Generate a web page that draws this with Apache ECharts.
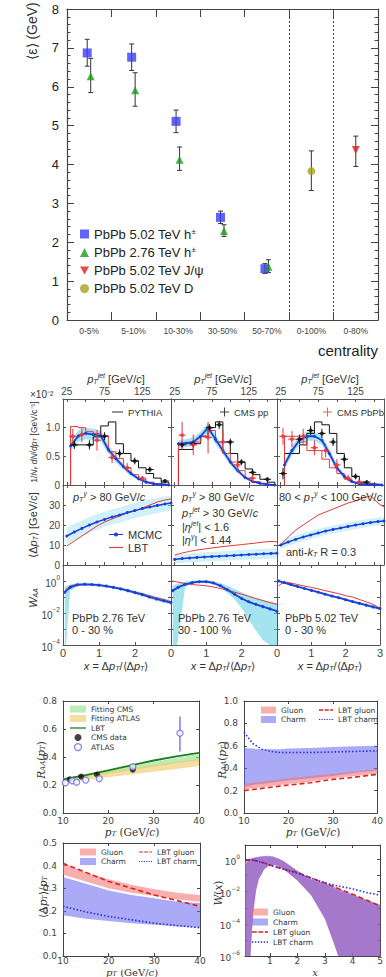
<!DOCTYPE html>
<html><head><meta charset="utf-8">
<script src="https://cdn.jsdelivr.net/npm/echarts@6/dist/echarts.min.js"></script>
<style>html,body{margin:0;padding:0;background:#fff}#c{width:386px;height:977px}</style>
</head><body><div id="c"></div>
<script>
// ================= DATA =================
// --- top chart: mean energy loss vs centrality ---
const centralityCats = ['0-5%','5-10%','10-30%','30-50%','50-70%','0-100%','0-80%'];
const h502Vals = [6.87, 6.76, 5.11, 2.64, 1.32];
const h502Err  = [[6.53,7.22],[6.42,7.10],[4.82,5.40],[2.48,2.80],[1.20,1.45]];
const h276Vals = [6.27, 5.91, 4.12, 2.29, 1.37];
const h276Err  = [[5.85,6.73],[5.50,6.36],[3.85,4.45],[2.15,2.45],[1.22,1.55]];
const jpsiCat = '0-80%', jpsiVal = 4.37, jpsiErr = [3.95,4.73];
const dCat = '0-100%', dVal = 3.83, dErr = [3.33,4.35];

// --- middle row 1: dN/dpT (x10^-2) ---
const histEdges = [30,40,50,60,70,80,90,100,110,120,130,140,150,160];
const pythia1 = [0.70,0.70,0.70,0.84,1.03,1.10,0.72,0.55,0.42,0.30,0.20,0.12,0.05];
const lbtHist1 = [1.02,1.00,0.93,0.90,0.86,0.58,0.46,0.30,0.18,0.10,0.05,0.02,0.01];
const pythia2 = [0.62,0.62,0.72,0.85,1.00,1.10,0.75,0.55,0.40,0.28,0.18,0.10,0.05];
const lbtHist2 = [0.72,0.72,0.75,0.85,0.95,0.75,0.55,0.40,0.25,0.12,0.06,0.03,0.01];
const pythia3 = [0.55,0.55,0.70,0.90,1.10,1.05,0.90,0.55,0.30,0.15,0.05,0.02,0.01];
const lbtHist3 = [0.85,0.85,0.75,0.60,0.60,0.45,0.30,0.20,0.10,0.05,0.02,0.01,0.00];
const mcmcPtX = [30,40,50,60,70,80,90,100,110,120,130,140,150,160];
const mcmcSpec1 = [0.68,0.85,0.90,0.88,0.86,0.62,0.46,0.32,0.20,0.11,0.05,0.02,0.01,0.00];
const mcmcSpec1Lo = [0.60,0.76,0.80,0.78,0.76,0.55,0.40,0.27,0.16,0.08,0.03,0.01,0.00,0.00];
const mcmcSpec1Hi = [0.76,0.95,1.00,0.98,0.95,0.70,0.52,0.37,0.24,0.14,0.07,0.03,0.02,0.01];
const mcmcSpec2 = [0.72,0.73,0.75,0.85,1.00,0.80,0.60,0.40,0.25,0.13,0.06,0.03,0.01,0.00];
const mcmcSpec2Lo = [0.65,0.66,0.68,0.77,0.90,0.72,0.53,0.35,0.21,0.10,0.04,0.02,0.00,0.00];
const mcmcSpec2Hi = [0.79,0.80,0.83,0.93,1.08,0.88,0.67,0.46,0.30,0.16,0.08,0.04,0.02,0.01];
const mcmcSpec3 = [0.35,0.60,0.78,0.85,0.85,0.78,0.55,0.30,0.15,0.06,0.02,0.01,0.00,0.00];
const mcmcSpec3Lo = [0.28,0.52,0.70,0.77,0.77,0.70,0.48,0.25,0.11,0.04,0.01,0.00,0.00,0.00];
const mcmcSpec3Hi = [0.42,0.68,0.86,0.93,0.93,0.86,0.62,0.36,0.19,0.08,0.03,0.02,0.01,0.00];
// points: [pT, value, lo, hi]
const blackPts1 = [[35,0.70,0.63,0.77],[55,0.70,0.62,0.78],[75,0.85,0.78,0.92],[95,0.55,0.48,0.62],[115,0.42,0.36,0.48],[135,0.27,0.22,0.32],[155,0.07,0.04,0.10]];
const redPts1 = [[33,0.85,0.72,0.98],[45,0.88,0.75,1.00],[65,0.78,0.60,0.96],[85,0.48,0.38,0.58],[105,0.30,0.22,0.38],[125,0.12,0.08,0.16]];
const blackPts2 = [[35,0.70,0.64,0.76],[50,0.72,0.66,0.78],[72,1.00,0.94,1.06],[85,1.05,0.98,1.12],[100,0.75,0.69,0.81],[115,0.40,0.35,0.45],[130,0.22,0.18,0.26],[150,0.10,0.07,0.13]];
const redPts2 = [[35,0.87,0.62,1.10],[50,0.70,0.52,0.88],[70,0.83,0.55,1.10],[90,0.75,0.55,0.95],[110,0.35,0.22,0.48],[130,0.12,0.05,0.20]];
const blackPts3 = [[28,0.20,0.10,0.30],[50,0.80,0.72,0.88],[65,0.95,0.87,1.03],[80,0.90,0.82,0.98],[95,0.75,0.68,0.82],[110,0.45,0.38,0.52],[125,0.15,0.10,0.20],[140,0.05,0.02,0.08]];
const redPts3 = [[28,0.85,0.70,1.00],[40,0.80,0.66,0.94],[55,0.85,0.72,0.98],[70,0.65,0.52,0.78],[85,0.60,0.48,0.72],[100,0.35,0.25,0.45],[115,0.12,0.06,0.18],[130,0.05,0.02,0.08]];

// --- middle row 2: <DeltaPT> vs pT ---
const dptX = [25,35,45,55,65,75,85,95,105,115,125,135,145,155,163];
const dptMcmc1 = [14.5,16.5,18.3,20.0,21.5,22.8,24.0,25.0,26.2,27.2,28.2,29.0,29.8,30.5,31.0];
const dptMcmc1Lo = [10.5,12.5,14.5,16.0,17.5,19.0,20.2,21.2,22.4,23.4,24.4,25.2,26.0,26.7,27.2];
const dptMcmc1Hi = [18.5,20.5,22.2,24.0,25.5,26.6,27.8,28.8,30.0,31.0,32.0,32.8,33.6,34.3,34.8];
const dptLbt1 = [9.5,12.0,14.5,17.0,19.5,21.5,23.0,24.5,26.0,27.0,28.5,30.0,31.5,32.5,33.0];
const dptMcmc2 = [2.8,3.2,3.5,3.8,4.0,4.2,4.4,4.6,4.8,5.0,5.2,5.4,5.6,5.8,5.9];
const dptMcmc2Lo = [0.8,1.0,1.3,1.5,1.7,1.9,2.0,2.2,2.4,2.5,2.7,2.8,3.0,3.2,3.3];
const dptMcmc2Hi = [4.8,5.3,5.7,6.1,6.4,6.6,6.8,7.0,7.2,7.5,7.7,7.9,8.1,8.3,8.4];
const dptLbt2 = [5.0,6.0,6.8,7.5,8.0,8.5,9.0,9.4,9.8,10.2,10.6,11.0,11.5,11.8,11.6];
const dptMcmc3 = [10.0,11.5,12.8,14.0,15.0,16.0,17.0,17.8,18.5,19.3,20.0,20.6,21.2,21.7,22.0];
const dptMcmc3Lo = [8.0,9.5,10.8,12.0,13.0,14.0,15.0,15.8,16.5,17.3,18.0,18.6,19.2,19.7,20.0];
const dptMcmc3Hi = [12.0,13.5,14.8,16.0,17.0,18.0,19.0,19.8,20.5,21.3,22.0,22.6,23.2,23.7,24.0];
const dptLbt3 = [10.0,14.0,17.5,20.0,22.5,25.0,26.5,28.0,29.5,31.0,32.0,33.5,34.5,31.0,29.0];

// --- middle row 3: W_AA(x) ---
const wX = [0.05,0.2,0.4,0.6,0.8,1.0,1.2,1.4,1.6,1.8,2.0,2.2,2.4,2.6,2.8,3.0];
const wMcmc1 = [0.20,0.40,0.58,0.62,0.60,0.55,0.48,0.40,0.32,0.25,0.19,0.14,0.10,0.075,0.058,0.045];
const wMcmc1Lo = [0.00001,0.25,0.45,0.52,0.50,0.46,0.40,0.33,0.26,0.20,0.15,0.11,0.078,0.057,0.043,0.032];
const wMcmc1Hi = [0.45,0.60,0.75,0.78,0.74,0.67,0.58,0.49,0.40,0.32,0.25,0.19,0.14,0.105,0.08,0.064];
const wLbt1 = [0.25,0.50,0.62,0.62,0.60,0.55,0.47,0.40,0.33,0.26,0.20,0.16,0.12,0.09,0.07,0.05];
const wMcmc2 = [0.25,0.40,0.62,0.80,0.90,0.90,0.75,0.50,0.28,0.15,0.08,0.05,0.035,0.025,0.018,0.013];
const wMcmc2Lo = [0.00001,0.0002,0.4,0.65,0.78,0.78,0.62,0.38,0.18,0.07,0.02,0.004,0.0008,0.0002,0.0001,0.0001];
const wMcmc2Hi = [0.5,0.7,0.9,1.05,1.15,1.15,1.0,0.75,0.5,0.32,0.2,0.13,0.09,0.065,0.05,0.04];
const wLbt2 = [1.00,0.85,0.70,0.60,0.55,0.50,0.42,0.34,0.26,0.20,0.15,0.11,0.08,0.06,0.045,0.035];
const wMcmc3 = [1.00,0.80,0.60,0.45,0.34,0.26,0.20,0.15,0.115,0.09,0.068,0.052,0.04,0.031,0.024,0.019];
const wMcmc3Lo = [0.85,0.68,0.51,0.38,0.29,0.22,0.17,0.13,0.098,0.075,0.057,0.043,0.033,0.025,0.019,0.015];
const wMcmc3Hi = [1.15,0.92,0.70,0.53,0.40,0.31,0.24,0.18,0.135,0.105,0.08,0.062,0.048,0.038,0.03,0.024];
const wLbt3 = [0.50,0.90,0.75,0.60,0.48,0.40,0.32,0.25,0.20,0.16,0.12,0.10,0.07,0.05,0.035,0.02];

// --- bottom left 1: R_AA ---
const raaX = [10,15,20,25,30,35,40];
const fitCmsLo = [0.235,0.255,0.28,0.305,0.33,0.355,0.375];
const fitCmsHi = [0.25,0.275,0.305,0.335,0.365,0.395,0.42];
const fitAtlasLo = [0.215,0.235,0.255,0.275,0.295,0.315,0.335];
const fitAtlasHi = [0.25,0.27,0.295,0.32,0.345,0.365,0.385];
const raaLbt = [0.24,0.27,0.305,0.34,0.375,0.405,0.43];
const cmsData = [[11.5,0.24,0.23,0.25],[14,0.26,0.25,0.27],[17.5,0.275,0.265,0.285],[25.4,0.31,0.295,0.325]];
const atlasData = [[10.5,0.215,0.205,0.225],[12,0.23,0.22,0.24],[13,0.22,0.21,0.23],[15,0.235,0.225,0.245],[18,0.245,0.235,0.255],[25.4,0.33,0.315,0.345],[35.8,0.57,0.44,0.69]];

// --- bottom right 1: R_AA gluon / charm ---
const raa2X = [10,12,14,16,18,20,25,30,35,40];
const gluonRaaLo = [0.21,0.22,0.23,0.24,0.25,0.26,0.28,0.31,0.33,0.35];
const gluonRaaHi = [0.26,0.27,0.28,0.29,0.30,0.31,0.33,0.35,0.37,0.39];
const charmRaaLo = [0.23,0.25,0.26,0.27,0.28,0.29,0.31,0.33,0.36,0.38];
const charmRaaHi = [0.58,0.575,0.57,0.57,0.57,0.575,0.58,0.59,0.595,0.60];
const lbtGluonRaa = [0.20,0.21,0.22,0.23,0.24,0.25,0.27,0.30,0.32,0.345];
const lbtCharmRaa = [0.72,0.62,0.57,0.55,0.54,0.54,0.54,0.545,0.55,0.555];

// --- bottom left 2: <DeltaPT>/pT ---
const lossX = [10,15,20,25,30,35,40];
const gluonLossLo = [0.36,0.33,0.30,0.28,0.265,0.25,0.24];
const gluonLossHi = [0.41,0.37,0.34,0.315,0.295,0.28,0.27];
const charmLossLo = [0.18,0.165,0.155,0.145,0.138,0.13,0.125];
const charmLossHi = [0.35,0.32,0.29,0.27,0.255,0.24,0.235];
const lbtGluonLoss = [0.41,0.37,0.33,0.30,0.27,0.245,0.22];
const lbtCharmLoss = [0.22,0.195,0.175,0.16,0.145,0.135,0.125];

// --- bottom right 2: W(x) ---
const wxUpX = [0.1,0.2,0.3,0.5,0.7,0.9,1.1,1.3,1.5,2.0,2.5,3.0,3.5,4.0,4.5,5.0];
const charmWHi = [0.4,0.8,1.1,1.4,1.6,1.7,1.6,1.2,0.8,0.2,0.06,0.035,0.015,0.007,0.003,0.0015];
const gluonWHi = [0.7,1.0,1.2,1.4,1.5,1.5,1.4,1.1,0.75,0.2,0.06,0.03,0.012,0.006,0.003,0.0015];
const wxLoX = [0.1,0.25,0.3,0.35,0.4,0.5,0.6,0.8,1.0,1.2,1.5,2.0,2.5,3.0,3.3,3.5,4.0,5.0];
const bandWLo = [1e-8,1e-7,1e-6,3e-5,5e-4,0.012,0.06,0.25,0.45,0.45,0.25,0.05,0.006,2e-4,8e-6,8e-7,1e-8,1e-8];
const lbtWX = [0.1,0.3,0.5,0.8,1.0,1.5,2.0,2.5,3.0,3.5,4.0,4.5,5.0];
const lbtGluonW = [0.9,0.95,0.85,0.6,0.45,0.25,0.16,0.07,0.035,0.015,0.007,0.003,0.0013];
const lbtCharmW = [0.9,0.95,0.85,0.6,0.45,0.25,0.14,0.07,0.035,0.022,0.015,0.009,0.006];

// ================= BUILD =================
const FONT = '"Liberation Sans", Arial, sans-serif';
const MID = '"Liberation Sans", Arial, sans-serif';
const BOT = '"DejaVu Sans", sans-serif';
const SERIF = '"DejaVu Serif", serif';
const grids=[], xAxis=[], yAxis=[], series=[], graphic=[], legend=[];

function mkAxis(gi, a, pos, labelOn){
  const col = a.lineColor || '#333';
  const o = {
    gridIndex: gi, position: pos, type: a.type || 'value',
    splitLine: {show:false},
    axisLine: {show:true, onZero:false, lineStyle:{color:col, width:a.lineWidth||1}},
    axisTick: {show: a.tick!==false, inside:true, length:a.tickLen||4, interval:0, lineStyle:{color:col, width:1}},
    minorTick: {show: !!a.minor, splitNumber: a.minor||5, length: a.minorLen||2, lineStyle:{color:col, width:1}},
    axisLabel: Object.assign({show: labelOn, color:'#333', fontSize:9, fontFamily:FONT, margin:4, interval:0}, a.label||{})
  };
  ['min','max','interval','data','logBase','boundaryGap'].forEach(k=>{ if(a[k]!==undefined) o[k]=a[k]; });
  if (a.splitLine && pos===a.splitPos) o.splitLine = a.splitLine;
  if (a.tickValues) o.axisTick.customValues = a.tickValues;
  if (a.labelValues) o.axisLabel.customValues = a.labelValues;
  return o;
}
function panel(rect, xa, ya){
  const gi = grids.length;
  grids.push({left:rect[0], top:rect[1], width:rect[2], height:rect[3], show:false});
  const xi = xAxis.length, yi = yAxis.length;
  xAxis.push(mkAxis(gi, xa, 'bottom', xa.bottomLabels!==false));
  xAxis.push(mkAxis(gi, xa, 'top', !!xa.topLabels));
  yAxis.push(mkAxis(gi, ya, 'left', ya.leftLabels!==false));
  yAxis.push(mkAxis(gi, ya, 'right', false));
  return {gi, xi, yi};
}
function lineS(p, xs, ys, st){
  return {type:'line', name:st.name, xAxisIndex:p.xi, yAxisIndex:p.yi,
    data: xs.map((x,i)=>[x,ys[i]]), symbol: st.symbol||'none', symbolSize: st.symbolSize||4,
    showSymbol: !!st.symbol, lineStyle:{color:st.color, width:st.width||1, type:st.type||'solid'},
    itemStyle:{color:st.color}, z: st.z||3, silent:true, animation:false, clip:true};
}
function histS(p, edges, vals, st){
  const xs=[], ys=[];
  xs.push(edges[0]); ys.push(0);
  vals.forEach((v,i)=>{ xs.push(edges[i]); ys.push(v); xs.push(edges[i+1]); ys.push(v); });
  xs.push(edges[edges.length-1]); ys.push(0);
  return lineS(p, xs, ys, st);
}
function bandS(p, xsU, up, xsL, lo, color, z, name){
  return {type:'custom', name:name, xAxisIndex:p.xi, yAxisIndex:p.yi, data:[[xsU[0], up[0]]],
    z:z||1, silent:true, clip:true, animation:false, itemStyle:{color:color},
    renderItem:(params, api)=>{
      const pts=[];
      for(let i=0;i<xsU.length;i++) pts.push(api.coord([xsU[i], up[i]]));
      for(let i=xsL.length-1;i>=0;i--) pts.push(api.coord([xsL[i], lo[i]]));
      return {type:'polygon', shape:{points:pts}, style:{fill:color}};
    }};
}
function errS(p, pts, color, opt){ // pts: [x, lo, hi, (y)]
  opt = opt||{};
  return {type:'custom', xAxisIndex:p.xi, yAxisIndex:p.yi, data:pts, z:opt.z||4, silent:true,
    clip:!!opt.clip, animation:false,
    renderItem:(params, api)=>{
      const x=api.value(0), lo=api.value(1), hi=api.value(2);
      const a=api.coord([x,lo]), b=api.coord([x,hi]); const dx=opt.dx||0, c=opt.cap||0, lw=opt.lw||1;
      const st={stroke:color, lineWidth:lw};
      const ch=[{type:'line', shape:{x1:a[0]+dx,y1:a[1],x2:b[0]+dx,y2:b[1]}, style:st}];
      if(c){
        ch.push({type:'line', shape:{x1:a[0]+dx-c,y1:a[1],x2:a[0]+dx+c,y2:a[1]}, style:st});
        ch.push({type:'line', shape:{x1:b[0]+dx-c,y1:b[1],x2:b[0]+dx+c,y2:b[1]}, style:st});
      }
      if(opt.hw){
        const y=api.value(3);
        const l=api.coord([x-opt.hw,y]), r=api.coord([x+opt.hw,y]);
        ch.push({type:'line', shape:{x1:l[0],y1:l[1],x2:r[0],y2:r[1]}, style:st});
      }
      return {type:'group', children:ch};
    }};
}
function scatS(p, pts, st){
  return {type:'scatter', name:st.name, xAxisIndex:p.xi, yAxisIndex:p.yi, data:pts,
    symbol:st.symbol||'circle', symbolSize:st.size||5, symbolOffset:st.offset||[0,0],
    itemStyle:{color:st.color, borderColor:st.border||st.color, borderWidth:st.bw||0},
    z:st.z||5, silent:true, animation:false};
}
function txt(x,y,text,o){
  o=o||{};
  return {type:'text', x:x, y:y, rotation:o.rot||0, z:100, silent:true,
    style:{text:text, fill:o.color||'#222', fontSize:o.size||10, fontFamily:o.font||MID,
      fontStyle:o.italic?'italic':'normal', align:o.align||'left', verticalAlign:o.va||'middle', rich:o.rich}};
}
const supRich = (sz, fam)=>{
  const f = fam||MID, lh = sz+2;
  return {
  n:{fontSize:sz, fontFamily:f, lineHeight:lh, verticalAlign:'bottom'},
  i:{fontSize:sz, fontFamily:f, lineHeight:lh, verticalAlign:'bottom', fontStyle:'italic'},
  s:{fontSize:Math.round(sz*0.68), fontFamily:f, lineHeight:lh, verticalAlign:'top'},
  si:{fontSize:Math.round(sz*0.68), fontFamily:f, lineHeight:lh, verticalAlign:'top', fontStyle:'italic'},
  d:{fontSize:Math.round(sz*0.68), fontFamily:f, lineHeight:lh, verticalAlign:'bottom', fontStyle:'italic'}
  };
};
// legend icon paths (bbox aspect kept)
const ICON_LINE = 'path://M0,0H20V1.6H0Z';
const ICON_DASH = 'path://M0,0H6V1.8H0Z M8,0H14V1.8H8Z M16,0H20V1.8H16Z';
const ICON_DOT = 'path://M0,0H1.6V1.6H0Z M3.4,0H5V1.6H3.4Z M6.8,0H8.4V1.6H6.8Z M10.2,0H11.8V1.6H10.2Z M13.6,0H15.2V1.6H13.6Z M17,0H18.6V1.6H17Z';
const ICON_LINEDOT = 'path://M0,2.3H20V3.7H0Z M10,0A3,3 0 1,1 9.99,0Z';
const ICON_CROSS = 'path://M4.4,0H5.6V4.4H10V5.6H5.6V10H4.4V5.6H0V4.4H4.4Z';

// ---------- TOP CHART ----------
const pTop = panel([67,9,311,311],
  {type:'category', data:centralityCats, boundaryGap:true, tickLen:8, lineColor:'#444', lineWidth:1.2,
   label:{fontSize:8.5, color:'#444', margin:6, fontFamily:FONT},
   splitPos:'bottom', splitLine:{show:true, interval:(i)=>i===5||i===6, lineStyle:{color:'#444', type:[2,2], width:1}}},
  {min:0, max:8, interval:1, tickLen:7, minor:5, minorLen:3.5, lineColor:'#444', lineWidth:1.2,
   label:{fontSize:13, color:'#222', margin:8, fontFamily:FONT}});
series.push(errS(pTop, h502Err.map((e,i)=>[i,e[0],e[1]]), '#333', {dx:-2, cap:2.5}));
series.push(errS(pTop, h276Err.map((e,i)=>[i,e[0],e[1]]), '#333', {dx:1.5, cap:2.5}));
series.push(errS(pTop, [[centralityCats.indexOf(dCat), dErr[0], dErr[1]]], '#333', {cap:2.5}));
series.push(errS(pTop, [[centralityCats.indexOf(jpsiCat), jpsiErr[0], jpsiErr[1]]], '#333', {cap:2.5}));
series.push(scatS(pTop, h502Vals.map((v,i)=>[i,v]), {name:'PbPb 5.02 TeV h±', symbol:'rect', size:9, offset:[-2,0], color:'#3c3cf5'}));
series.push(scatS(pTop, h276Vals.map((v,i)=>[i,v]), {name:'PbPb 2.76 TeV h±', symbol:'triangle', size:8, offset:[1.5,0], color:'#1d9a1d'}));
series.push(scatS(pTop, [[centralityCats.indexOf(jpsiCat), jpsiVal]], {name:'PbPb 5.02 TeV J/ψ', symbol:'path://M0,0L10,0L5,9Z', size:[8,8], color:'#e41a1a'}));
series.push(scatS(pTop, [[centralityCats.indexOf(dCat), dVal]], {name:'PbPb 5.02 TeV D', symbol:'circle', size:8, color:'#a9a21a'}));
legend.push({orient:'vertical', left:80, top:227, padding:0, itemGap:5, itemWidth:9, itemHeight:9, selectedMode:false,
  textStyle:{fontSize:13, fontFamily:FONT, color:'#222', rich:{n:{fontSize:13,fontFamily:FONT,color:'#222'}, s:{fontSize:8, fontFamily:FONT, color:'#222', verticalAlign:'top', padding:[0,0,6,0]}}},
  formatter:(n)=> n.endsWith('h±') ? '{n|'+n.slice(0,-1)+'}{s|±}' : n,
  data:['PbPb 5.02 TeV h±','PbPb 2.76 TeV h±','PbPb 5.02 TeV J/ψ','PbPb 5.02 TeV D']});
graphic.push(txt(32,31,'⟨ε⟩ (GeV)',{rot:Math.PI/2, size:14, font:FONT, align:'center', color:'#333'}));
graphic.push(txt(378,350,'centrality',{size:15, font:FONT, align:'right', color:'#222'}));

// ---------- MIDDLE 3x3 ----------
const colL=[63,171,277], colW=[108,106,107];
const rowT=[399,485,565], rowH=[86,80,80];
const midLabel = {fontSize:10, fontFamily:MID, color:'#444', margin:3};
const logFmt = (v)=>{ const e=Math.round(Math.log10(v)); if(e>0 || e%2!==0) return ''; return '{b|10}{s|'+(e<0?'−'+(-e):e)+'}'; };
const logRich = {b:{fontSize:10, fontFamily:MID, color:'#444', lineHeight:14, verticalAlign:'bottom'}, s:{fontSize:6.5, fontFamily:MID, color:'#444', lineHeight:14, verticalAlign:'top'}};
const P1=[],P2=[],P3=[];
for(let c=0;c<3;c++){
  P1[c]=panel([colL[c],rowT[0],colW[c],rowH[0]],
    {min:20, max:163, tickValues:[25,50,75,100,125,150], labelValues:[25,75,125], bottomLabels:false, topLabels:true, tickLen:3, lineColor:'#555', label:midLabel},
    {min:0, max:1.5, interval:0.5, tickLen:3, lineColor:'#555', leftLabels:c===0, label:Object.assign({}, midLabel, {formatter:(v)=> v===0?'0':(v>1.2?'':v.toFixed(1))})});
  P2[c]=panel([colL[c],rowT[1],colW[c],rowH[1]],
    {min:20, max:163, tickValues:[25,50,75,100,125,150], bottomLabels:false, tickLen:3, lineColor:'#555', label:midLabel},
    {min:0, max:40, interval:10, tickLen:3, lineColor:'#555', leftLabels:c===0, label:Object.assign({}, midLabel, {formatter:(v)=> v>35?'':String(v)})});
  P3[c]=panel([colL[c],rowT[2],colW[c],rowH[2]],
    {min:0, max:3, interval:1, tickLen:3, lineColor:'#555', label:Object.assign({}, midLabel, {fontSize:11, margin:2, formatter:(v)=> (c<2 && v===3)?'':String(v)})},
    {type:'log', logBase:10, min:1e-4, max:10, interval:1, tickLen:3, lineColor:'#555', leftLabels:c===0, label:Object.assign({}, midLabel, {formatter:logFmt, rich:logRich})});
}
const CYAN='rgba(90,205,225,0.55)', CYAN2='rgba(150,225,238,0.45)', MBLUE='#1c3fd8', LRED='#e8373a';
const pyth=[pythia1,pythia2,pythia3], lbtH=[lbtHist1,lbtHist2,lbtHist3];
const spec=[mcmcSpec1,mcmcSpec2,mcmcSpec3], specLo=[mcmcSpec1Lo,mcmcSpec2Lo,mcmcSpec3Lo], specHi=[mcmcSpec1Hi,mcmcSpec2Hi,mcmcSpec3Hi];
const bPts=[blackPts1,blackPts2,blackPts3], rPts=[redPts1,redPts2,redPts3];
const dM=[dptMcmc1,dptMcmc2,dptMcmc3], dMLo=[dptMcmc1Lo,dptMcmc2Lo,dptMcmc3Lo], dMHi=[dptMcmc1Hi,dptMcmc2Hi,dptMcmc3Hi], dL=[dptLbt1,dptLbt2,dptLbt3];
const wM=[wMcmc1,wMcmc2,wMcmc3], wMLo=[wMcmc1Lo,wMcmc2Lo,wMcmc3Lo], wMHi=[wMcmc1Hi,wMcmc2Hi,wMcmc3Hi], wL=[wLbt1,wLbt2,wLbt3];
for(let c=0;c<3;c++){
  series.push(bandS(P1[c], mcmcPtX, specHi[c], mcmcPtX, specLo[c], CYAN, 1));
  series.push(histS(P1[c], histEdges, pyth[c], {color:'#111', width:1, z:2, name: c===0?'PYTHIA':undefined}));
  series.push(histS(P1[c], histEdges, lbtH[c], {color:LRED, width:1, z:2}));
  series.push(lineS(P1[c], mcmcPtX, spec[c], {color:MBLUE, width:1.8, symbol:'circle', symbolSize:3, z:3}));
  series.push(errS(P1[c], bPts[c].map(p=>[p[0],p[2],p[3],p[1]]), '#111', {hw:5, z:4}));
  series.push(scatS(P1[c], bPts[c].map(p=>[p[0],p[1]]), {color:'#111', size:4, name: c===1?'CMS pp':undefined}));
  series.push(errS(P1[c], rPts[c].map(p=>[p[0],p[2],p[3],p[1]]), LRED, {hw:5, z:4}));
  series.push(scatS(P1[c], rPts[c].map(p=>[p[0],p[1]]), {color:LRED, size:4, name: c===2?'CMS PbPb':undefined}));
  series.push(bandS(P2[c], dptX, dMHi[c], dptX, dMLo[c], CYAN2, 1));
  series.push(lineS(P2[c], dptX, dL[c], {color:LRED, width:1, z:2, name: c===0?'LBT':undefined}));
  series.push(lineS(P2[c], dptX, dM[c], {color:MBLUE, width:1.5, symbol:'circle', symbolSize:3, z:3, name: c===0?'MCMC':undefined}));
  series.push(bandS(P3[c], wX, wMHi[c], wX, wMLo[c], CYAN, 1));
  series.push(lineS(P3[c], wX, wL[c], {color:LRED, width:1, z:2}));
  series.push(lineS(P3[c], wX, wM[c], {color:MBLUE, width:1.8, symbol:'circle', symbolSize:3, z:3}));
}
const midLegText = {fontSize:9.5, fontFamily:MID, color:'#333'};
legend.push({left:112, top:407, padding:0, itemWidth:11, itemHeight:6, selectedMode:false, textStyle:midLegText, itemGap:5,
  data:[{name:'PYTHIA', icon:ICON_LINE}]});
legend.push({left:220, top:407, padding:0, itemWidth:9, itemHeight:9, selectedMode:false, textStyle:midLegText,
  data:[{name:'CMS pp', icon:ICON_CROSS}]});
legend.push({left:323, top:407, padding:0, itemWidth:9, itemHeight:9, selectedMode:false, textStyle:midLegText,
  data:[{name:'CMS PbPb', icon:ICON_CROSS}]});
legend.push({orient:'vertical', left:109, top:529, padding:0, itemWidth:14, itemHeight:5, itemGap:2, selectedMode:false, textStyle:Object.assign({},midLegText,{fontSize:11}),
  data:[{name:'MCMC', icon:ICON_LINEDOT},{name:'LBT', icon:ICON_LINE}]});
const r11 = supRich(11);
[116,223,330].forEach(x=>graphic.push(txt(x,378,'{i|p}{d|T}{si|jet}{n| [GeV/}{i|c}{n|]}',{size:11, align:'center', color:'#333', rich:r11})));
graphic.push(txt(30,394,'×10⁻²',{size:10, color:'#333'}));
graphic.push(txt(33,442,'{n|1/}{i|N}{d|γ} {i|dN}/{i|dp}{d|T} {n|[GeV/c⁻¹]}',{rot:Math.PI/2, size:8.5, align:'center', color:'#333', rich:supRich(8.5)}));
graphic.push(txt(32,525,'{n|⟨Δ}{i|p}{d|T}{n|⟩ [GeV/}{i|c}{n|]}',{rot:Math.PI/2, size:11, align:'center', color:'#333', rich:r11}));
graphic.push(txt(32,598,'{i|W}{d|AA}',{rot:Math.PI/2, size:11, align:'center', color:'#333', rich:r11}));
[116,223,330].forEach(x=>graphic.push(txt(x,665,'{i|x}{n| = Δ}{i|p}{d|T}{n|/⟨Δ}{i|p}{d|T}{n|⟩}',{size:11, align:'center', color:'#333', rich:r11})));
const ann = (x,y,t)=>graphic.push(txt(x,y,t,{size:11, color:'#333', rich:r11}));
ann(73,496,'{i|p}{d|T}{si|γ}{n| > 80 GeV/}{i|c}');
ann(182,496,'{i|p}{d|T}{si|γ}{n| > 80 GeV/}{i|c}');
ann(182,512,'{i|p}{d|T}{si|jet}{n| > 30 GeV/}{i|c}');
ann(182,526,'{n||}{i|η}{si|jet}{n|| < 1.6}');
ann(182,539,'{n||}{i|η}{si|γ}{n|| < 1.44}');
ann(279,496,'{n|80 < }{i|p}{d|T}{si|γ}{n| < 100 GeV/}{i|c}');
ann(286,551,'{n|anti-}{i|k}{d|T}{n| R = 0.3}');
ann(72,618,'PbPb 2.76 TeV'); ann(72,630,'0 - 30 %');
ann(178,618,'PbPb 2.76 TeV'); ann(178,630,'30 - 100 %');
ann(285,618,'PbPb 5.02 TeV'); ann(285,630,'0 - 30 %');

// ---------- BOTTOM PANELS ----------
const botLabel = {fontSize:9, fontFamily:BOT, color:'#444', margin:3};
const botYLabel = Object.assign({}, botLabel, {margin:6, formatter:v=>v.toFixed(1)});
const ptAxis = {min:10, max:40, interval:10, tickLen:3, lineColor:'#444', label:botLabel};
const ptAxisLow = Object.assign({}, ptAxis, {label:Object.assign({}, botLabel, {margin:0, lineHeight:10})});
const PB1 = panel([63,701,136,112], ptAxis, {min:0, max:0.8, interval:0.2, tickLen:3, lineColor:'#444', label:botYLabel});
const PB2 = panel([244,701,140,112], ptAxis, {min:0, max:1.0, interval:0.2, tickLen:3, lineColor:'#444', label:botYLabel});
const PB3 = panel([63,843,137,113], ptAxisLow, {min:0, max:0.5, interval:0.1, tickLen:3, lineColor:'#444', label:botYLabel});
const PB4 = panel([245,845,139,111], {min:0.1, max:5, tickValues:[1,2,3,4,5], labelValues:[1,2,3,4,5], tickLen:3, lineColor:'#444', label:Object.assign({}, botLabel, {margin:0, lineHeight:10})},
  {type:'log', logBase:10, min:1e-6, max:8, interval:1, tickLen:3, lineColor:'#444', label:Object.assign({},botLabel,{margin:5, formatter:logFmt, rich:{b:{fontSize:9,fontFamily:BOT,color:'#444',lineHeight:13,verticalAlign:'bottom'}, s:{fontSize:6,fontFamily:BOT,color:'#444',lineHeight:13,verticalAlign:'top'}}})});
const GLU='rgba(245,110,110,0.55)', CHA='rgba(100,100,240,0.55)';
const GLU_W='rgba(245,120,120,0.6)', CHA_W='rgba(120,90,220,0.65)';
// BL1
series.push(bandS(PB1, raaX, fitCmsHi, raaX, fitCmsLo, 'rgba(140,225,140,0.6)', 1, 'Fitting CMS'));
series.push(bandS(PB1, raaX, fitAtlasHi, raaX, fitAtlasLo, 'rgba(240,200,100,0.6)', 1, 'Fitting ATLAS'));
series.push(lineS(PB1, raaX, raaLbt, {color:'#1c7f1c', width:1.8, name:'LBT ', z:3}));
series.push(errS(PB1, cmsData.map(p=>[p[0],p[2],p[3]]), '#111', {z:4}));
series.push(scatS(PB1, cmsData.map(p=>[p[0],p[1]]), {name:'CMS data', color:'#111', size:6}));
series.push(errS(PB1, atlasData.map(p=>[p[0],p[2],p[3]]), '#6a6ae0', {z:4, lw:1.3}));
series.push(scatS(PB1, atlasData.map(p=>[p[0],p[1]]), {name:'ATLAS', color:'#fff', border:'#6a6ae0', bw:1.3, size:6}));
const bLeg = {fontSize:7.5, fontFamily:BOT, color:'#333'};
legend.push({orient:'vertical', left:70, top:705, padding:0, itemWidth:16, itemHeight:7, itemGap:1.5, selectedMode:false, textStyle:bLeg,
  data:[{name:'Fitting CMS',icon:'rect'},{name:'Fitting ATLAS',icon:'rect'},{name:'LBT ',icon:ICON_LINE},{name:'CMS data',icon:'circle'},
        {name:'ATLAS',icon:'circle',itemStyle:{color:'#fff',borderColor:'#6a6ae0',borderWidth:1.3}}]});
// BR1
series.push(bandS(PB2, raa2X, charmRaaHi, raa2X, charmRaaLo, CHA, 1, 'Charm'));
series.push(bandS(PB2, raa2X, gluonRaaHi, raa2X, gluonRaaLo, GLU, 1, 'Gluon'));
series.push(lineS(PB2, raa2X, lbtGluonRaa, {color:'#e02020', width:1.6, type:[5,3], name:'LBT gluon'}));
series.push(lineS(PB2, raa2X, lbtCharmRaa, {color:'#2c2ce0', width:1.6, type:[1.5,2], name:'LBT charm'}));
// BL2
series.push(bandS(PB3, lossX, charmLossHi, lossX, charmLossLo, CHA, 1));
series.push(bandS(PB3, lossX, gluonLossHi, lossX, gluonLossLo, GLU, 1));
series.push(lineS(PB3, lossX, lbtGluonLoss, {color:'#e02020', width:1.6, type:[5,3]}));
series.push(lineS(PB3, lossX, lbtCharmLoss, {color:'#2c2ce0', width:1.6, type:[1.5,2]}));
// BR2
series.push(bandS(PB4, wxUpX, gluonWHi, wxLoX, bandWLo, GLU_W, 1));
series.push(bandS(PB4, wxUpX, charmWHi, wxLoX, bandWLo, CHA_W, 1));
series.push(lineS(PB4, lbtWX, lbtGluonW, {color:'#e02020', width:1.6, type:[5,3]}));
series.push(lineS(PB4, lbtWX, lbtCharmW, {color:'#2c2ce0', width:1.6, type:[1.5,2]}));
const legPair = (l1,w1,l2,w2,top)=>{
  legend.push({orient:'vertical', left:l1, top:top, padding:0, itemWidth:w1, itemHeight:7, itemGap:1.5, selectedMode:false, textStyle:bLeg, data:[{name:'Gluon',icon:'rect'},{name:'Charm',icon:'rect'}]});
  legend.push({orient:'vertical', left:l2, top:top, padding:0, itemWidth:w2, itemHeight:7, itemGap:1.5, selectedMode:false, textStyle:bLeg, data:[{name:'LBT gluon',icon:ICON_DASH},{name:'LBT charm',icon:ICON_DOT}]});
};
legPair(261,15,319,14,706);
legPair(80,16,139,13,848);
legend.push({orient:'vertical', left:252, top:908, padding:0, itemWidth:16, itemHeight:7, itemGap:2, selectedMode:false, textStyle:bLeg,
  data:[{name:'Gluon',icon:'rect'},{name:'Charm',icon:'rect'},{name:'LBT gluon',icon:ICON_DASH},{name:'LBT charm',icon:ICON_DOT}]});
const sr = supRich(10.5, SERIF);
const sr2 = supRich(10, SERIF);
Object.keys(sr2).forEach(k=>sr2[k].lineHeight=11);
const serifT = (x,y,t,rot)=>graphic.push(txt(x,y,t,{rot:rot?Math.PI/2:0, size:10.5, font:SERIF, align:'center', color:'#333', rich:sr}));
const serifB = (x,t)=>graphic.push(txt(x,977,t,{size:10, font:SERIF, align:'center', va:'bottom', color:'#333', rich:sr2}));
serifT(132,831,'{i|p}{d|T}{n| (GeV/}{i|c}{n|)}');
serifT(313,831,'{i|p}{d|T}{n| (GeV/}{i|c}{n|)}');
serifB(132,'{i|p}{d|T}{n| (GeV/}{i|c}{n|)}');
serifB(315,'{i|x}');
serifT(40,760,'{i|R}{d|AA}{n|(}{i|p}{d|T}{n|)}',true);
serifT(221,760,'{i|R}{d|AA}{n|(}{i|p}{d|T}{n|)}',true);
serifT(42,897,'{n|⟨Δ}{i|p}{d|T}{n|⟩/}{i|p}{d|T}',true);
serifT(217,893,'{i|W}{n|(}{i|x}{n|)}',true);

const chart = echarts.init(document.getElementById('c'), null, {renderer:'svg', width:386, height:977});
chart.setOption({animation:false, backgroundColor:'#fff', grid:grids, xAxis:xAxis, yAxis:yAxis, series:series, legend:legend, graphic:{elements:graphic}});
</script></body></html>
